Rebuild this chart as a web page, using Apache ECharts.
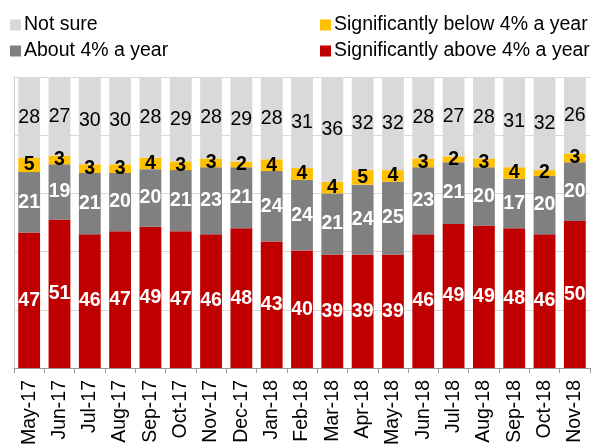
<!DOCTYPE html>
<html>
<head>
<meta charset="utf-8">
<script src="https://cdn.jsdelivr.net/npm/echarts@6/dist/echarts.min.js"></script>
<style>
  html, body { margin:0; padding:0; background:#fff; }
  #chart { width:596px; height:448px; }
</style>
</head>
<body>
<div id="chart"></div>
<script>
// ======== data ========
const months = ['May-17','Jun-17','Jul-17','Aug-17','Sep-17','Oct-17','Nov-17','Dec-17','Jan-18','Feb-18',
  'Mar-18','Apr-18','May-18','Jun-18','Jul-18','Aug-18','Sep-18','Oct-18','Nov-18'];
const above   = [47,51,46,47,49,47,46,48,43,40,39,39,39,46,49,49,48,46,50];
const about   = [21,19,21,20,20,21,23,21,24,24,21,24,25,23,21,20,17,20,20];
const below   = [5,3,3,3,4,3,3,2,4,4,4,5,4,3,2,3,4,2,3];
const notSure = [28,27,30,30,28,29,28,29,28,31,36,32,32,28,27,28,31,32,26];

// 100% stacked: share of each month's total
const totals = months.map((m,i)=> above[i]+about[i]+below[i]+notSure[i]);
const pct = arr => arr.map((v,i)=> ({ value: v/totals[i]*100, raw: v }));

const FONT = 'Liberation Sans, Arial, sans-serif';
function seriesOf(name, arr, color, labelColor, bold){
  return {
    name, type:'bar', stack:'all', barWidth:'72%', data:pct(arr),
    itemStyle:{ color },
    label:{ show:true, position:'inside', color:labelColor, fontFamily:FONT, fontSize:19.5,
      fontWeight: bold ? 'bold' : 'normal', formatter:p=> p.data.raw }
  };
}

const chart = echarts.init(document.getElementById('chart'));
const legendBase = { orient:'vertical', itemWidth:11, itemHeight:11, itemGap:6, icon:'rect',
  textStyle:{ fontFamily:FONT, fontSize:19.5, color:'#000', padding:[0,0,0,-2] } };
chart.setOption({
  animation:false,
  legend:[
    Object.assign({ left:5, top:10, data:['Not sure','About 4% a year'] }, legendBase),
    Object.assign({ left:315, top:10, data:['Significantly below 4% a year','Significantly above 4% a year'] }, legendBase)
  ],
  grid:{ left:14, right:6, top:77, bottom:78 },
  xAxis:{ type:'category', data:months,
    axisLine:{ lineStyle:{ color:'#999' } },
    axisTick:{ show:true, length:5, lineStyle:{ color:'#999' } },
    axisLabel:{ rotate:90, interval:0, fontFamily:FONT, fontSize:19.5, color:'#000', margin:12 } },
  yAxis:{ type:'value', min:0, max:100, interval:20,
    axisLabel:{ show:false },
    axisLine:{ show:true, lineStyle:{ color:'#ccc' } },
    splitLine:{ lineStyle:{ color:'#d9d9d9' } } },
  series:[
    seriesOf('Significantly above 4% a year', above, '#C00000', '#fff', true),
    seriesOf('About 4% a year', about, '#808080', '#fff', true),
    seriesOf('Significantly below 4% a year', below, '#FFC000', '#000', true),
    seriesOf('Not sure', notSure, '#D9D9D9', '#000', false)
  ]
});
</script>
</body>
</html>
